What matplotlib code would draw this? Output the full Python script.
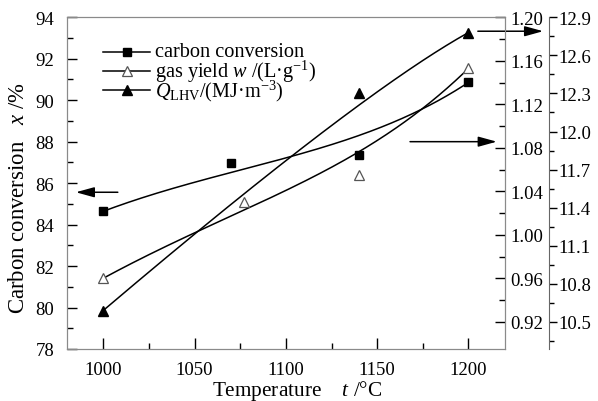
import math
import numpy as np
import matplotlib
matplotlib.use('Agg')
import matplotlib.pyplot as plt
from matplotlib.ticker import MultipleLocator, FixedLocator

# data
temp_cc = [1000, 1070, 1140, 1200]
carbon_conv = [84.64, 86.96, 87.36, 90.86]   # %

temp_gy = [1000, 1077, 1140, 1200]
gas_yield = [0.960, 1.030, 1.055, 1.153]     # L/g

temp_q = [1000, 1140, 1200]
q_lhv = [10.59, 12.30, 12.78]                # MJ/m3

legend_labels = ['carbon conversion', 'gas yield $w$ /(L·g$^{-1}$)',
                 '$Q_{\\mathrm{LHV}}$/(MJ·m$^{-3}$)']

plt.rcParams['font.family'] = ['Liberation Serif', 'DejaVu Serif']
plt.rcParams['mathtext.fontset'] = 'custom'
plt.rcParams['mathtext.rm'] = 'Liberation Serif'
plt.rcParams['mathtext.it'] = 'Liberation Serif:italic'
plt.rcParams['font.size'] = 13.5


def bspline(xs, ys, n=200):
    # smooth curve with the points as control points (like Origin's B-spline)
    t = np.linspace(0, 1, n)
    k = len(xs) - 1
    bx = np.zeros(n)
    by = np.zeros(n)
    for i in range(k + 1):
        b = math.comb(k, i) * t**i * (1 - t)**(k - i)
        bx += b * xs[i]
        by += b * ys[i]
    return bx, by


fig = plt.figure(figsize=(5.98, 4.02), dpi=100)
ax = fig.add_axes([0.1115, 0.1294, 0.733, 0.8251])
ax2 = ax.twinx()
ax3 = ax.twinx()

spine_col = '#8a8a8a'
lw = 1.1
styles = [dict(marker='s', color='k', ms=6),
          dict(marker='^', color='k', mfc='white', mec='#555555', ms=7.5, mew=0.9),
          dict(marker='^', color='k', ms=7.5)]

# carbon conversion on the left axis
cx, cy = bspline(temp_cc, carbon_conv)
ax.plot(cx, cy, color='k', lw=lw)
ax.plot(temp_cc, carbon_conv, ls='none', **styles[0])

# gas yield on the middle axis
gx, gy = bspline(temp_gy, gas_yield)
ax2.plot(gx, gy, color='k', lw=lw)
ax2.plot(temp_gy, gas_yield, ls='none', **styles[1])

# heating value on the outer right axis
qx, qy = bspline(temp_q, q_lhv)
ax3.plot(qx, qy, color='k', lw=lw)
ax3.plot(temp_q, q_lhv, ls='none', **styles[2])

ax.set_xlim(980, 1220)
ax.set_ylim(78, 94)
ax2.set_ylim(0.895, 1.20)
ax3.set_ylim(10.287, 12.9)

ax.set_xticks([1000, 1050, 1100, 1150, 1200])
ax.xaxis.set_minor_locator(MultipleLocator(25))
ax.set_yticks(np.arange(78, 95, 2))
ax.yaxis.set_minor_locator(MultipleLocator(1))
ax.tick_params(which='both', direction='in', top=False, right=False)
ax.tick_params(axis='y', which='major', length=7, width=1, pad=9)
ax.tick_params(axis='y', which='minor', length=4.5, width=1)
ax.tick_params(axis='x', which='major', length=8, width=1, pad=9)
ax.tick_params(axis='x', which='minor', length=4.5, width=1)

ax2.set_yticks([0.92, 0.96, 1.00, 1.04, 1.08, 1.12, 1.16, 1.20])
ax2.set_yticklabels(['0.92', '0.96', '1.00', '1.04', '1.08', '1.12', '1.16', '1.20'])
ax2.yaxis.set_minor_locator(FixedLocator([0.94, 0.98, 1.02, 1.06, 1.10, 1.14, 1.18]))
ax2.tick_params(which='both', direction='in')
ax2.tick_params(which='major', length=7, width=1, pad=4)
ax2.tick_params(which='minor', length=4.5, width=1)

# 44 px to the right of the frame
ax3.spines['right'].set_position(('outward', 44 * 72 / 100))
for s in ['top', 'bottom', 'left']:
    ax3.spines[s].set_visible(False)
ax3.set_yticks(np.arange(10.5, 12.95, 0.3))
ax3.set_yticklabels(['10.5', '10.8', '11.1', '11.4', '11.7', '12.0', '12.3', '12.6', '12.9'])
ax3.yaxis.set_minor_locator(FixedLocator(np.arange(10.35, 12.9, 0.3)))
ax3.tick_params(which='both', direction='out')
ax3.tick_params(which='major', length=6, width=1, pad=1)
ax3.tick_params(which='minor', length=3.5, width=1)

for a in (ax, ax2):
    for s in a.spines.values():
        s.set_color(spine_col)
ax3.spines['right'].set_color('#666666')

ax.set_xlabel('Temperature    $t$ /°C', fontsize=15.3)
ax.xaxis.set_label_coords(0.525, -0.088)
ax.xaxis.label.set_va('top')
ax.set_ylabel('Carbon conversion   $x$ /%', fontsize=16.4)
ax.yaxis.set_label_coords(-0.085, 0.458)

# arrows pointing each curve to its axis
arrow = dict(arrowstyle='-|>,head_length=0.8,head_width=0.22', color='k', lw=1.1,
             mutation_scale=14, shrinkA=0, shrinkB=0)
ax.annotate('', xy=(985, 85.56), xytext=(1008, 85.56), arrowprops=arrow)
ax.annotate('', xy=(1215.5, 88.0), xytext=(1168, 88.0), arrowprops=arrow)
ax.annotate('', xy=(1.087, 0.958), xytext=(0.938, 0.958), xycoords='axes fraction',
            textcoords='axes fraction', arrowprops=arrow, annotation_clip=False)

# legend, drawn by hand to get the tight row spacing
row_y = [0.896, 0.839, 0.781]
for yy, lab, st in zip(row_y, legend_labels, styles):
    ax.plot([0.083, 0.190], [yy, yy], color='k', lw=lw, transform=ax.transAxes)
    ax.plot([0.1365], [yy], ls='none', transform=ax.transAxes, **st)
    ax.text(0.2015, yy, lab, transform=ax.transAxes, va='center', ha='left', fontsize=14.6)

fig.savefig('out.png', dpi=100)
